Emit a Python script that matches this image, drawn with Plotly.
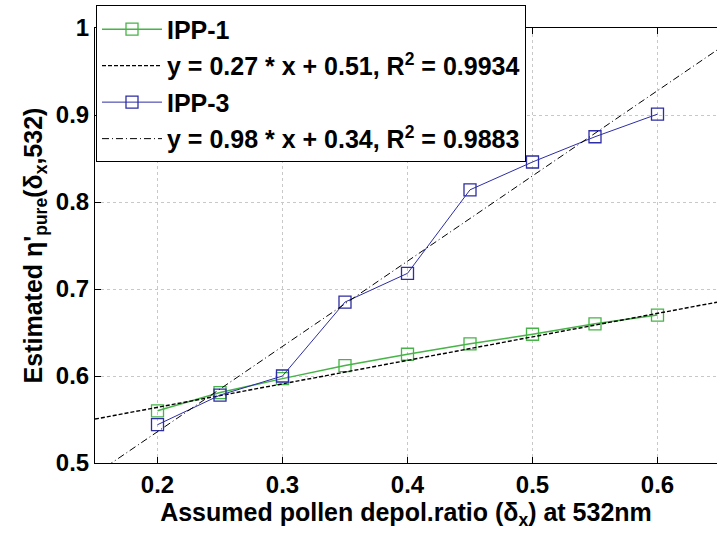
import plotly.graph_objects as go

x_vals = [0.2, 0.25, 0.3, 0.35, 0.4, 0.45, 0.5, 0.55, 0.6]
ipp1 = [0.560, 0.581, 0.597, 0.612, 0.625, 0.637, 0.648, 0.660, 0.670]
ipp3 = [0.544, 0.578, 0.600, 0.685, 0.718, 0.814, 0.846, 0.875, 0.901]

fit_slopes = [0.27, 0.98]
fit_intercepts = [0.51, 0.34]
fit_r2 = ["0.9934", "0.9883"]

x_tick_vals = [0.2, 0.3, 0.4, 0.5, 0.6]
y_tick_vals = [0.5, 0.6, 0.7, 0.8, 0.9, 1.0]
y_tick_text = ["0.5", "0.6", "0.7", "0.8", "0.9", "1"]

x_range = [0.15, 0.6476]
y_range = [0.5, 1.0]

green = "rgb(70,180,70)"
blue = "rgb(45,45,165)"

fit_x = [x_range[0], x_range[1]]

def fit_line(i):
    return [fit_slopes[i] * xv + fit_intercepts[i] for xv in fit_x]

def fit_label(i):
    return "y = %.2f * x + %.2f, R<sup>2</sup> = %s" % (fit_slopes[i], fit_intercepts[i], fit_r2[i])

fig = go.Figure()
fig.add_trace(go.Scatter(x=x_vals, y=ipp1, mode="lines+markers", name="IPP-1", legendgroup="a",
                         line=dict(color=green, width=1.5),
                         marker=dict(symbol="square-open", size=12, color=green, line=dict(width=1.3))))
fig.add_trace(go.Scatter(x=fit_x, y=fit_line(0), mode="lines", name=fit_label(0), legendgroup="b",
                         line=dict(color="black", width=1.4, dash="4px,2px")))
fig.add_trace(go.Scatter(x=x_vals, y=ipp3, mode="lines+markers", name="IPP-3", legendgroup="c",
                         line=dict(color=blue, width=1),
                         marker=dict(symbol="square-open", size=12, color=blue, line=dict(width=1.3))))
fig.add_trace(go.Scatter(x=fit_x, y=fit_line(1), mode="lines", name=fit_label(1), legendgroup="d",
                         line=dict(color="black", width=1, dash="7px,3px,1px,3px")))

font_family = "Liberation Sans, Arial, sans-serif"

fig.update_layout(
    width=717, height=536,
    margin=dict(l=95, r=0, t=28, b=73),
    paper_bgcolor="white", plot_bgcolor="white",
    font=dict(family=font_family, color="black", size=24),
    showlegend=True,
    legend=dict(x=0.0016, y=1.052, xanchor="left", yanchor="top",
                bgcolor="white", bordercolor="black", borderwidth=1,
                font=dict(size=25, family=font_family, weight="bold"),
                itemwidth=60, tracegroupgap=1),
    xaxis=dict(range=x_range, tickvals=x_tick_vals, ticktext=[str(v) for v in x_tick_vals],
               showgrid=True, gridcolor="rgb(200,200,200)", griddash="dot", gridwidth=1,
               showline=True, linecolor="black", linewidth=1, mirror="ticks",
               ticks="inside", ticklen=6, tickcolor="black",
               tickfont=dict(size=24, weight="bold"), zeroline=False,
               title=dict(text="<b>Assumed pollen depol.ratio (δ<sub>x</sub>) at 532nm</b>",
                          font=dict(size=25), standoff=3)),
    yaxis=dict(range=y_range, tickvals=y_tick_vals, ticktext=y_tick_text,
               showgrid=True, gridcolor="rgb(200,200,200)", griddash="dot", gridwidth=1,
               showline=True, linecolor="black", linewidth=1, mirror=False,
               ticks="inside", ticklen=6, tickcolor="black",
               tickfont=dict(size=24, weight="bold"), zeroline=False,
               title=dict(text="<b>Estimated η'<sub>pure</sub>(δ<sub>x</sub>,532)</b>",
                          font=dict(size=25), standoff=6)),
)

fig.write_html("out.html")
